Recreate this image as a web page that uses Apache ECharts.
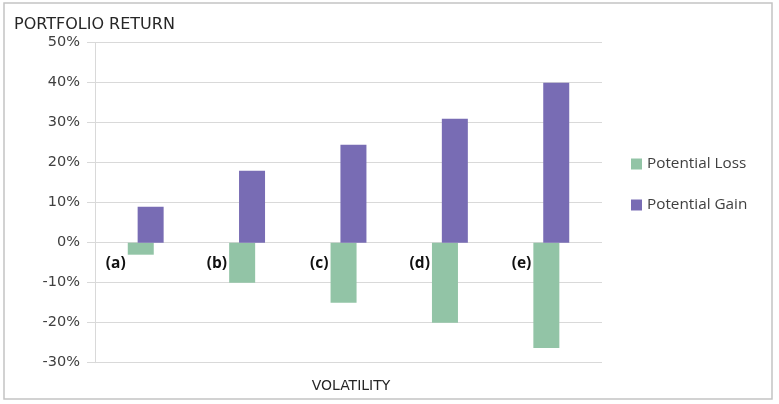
<!DOCTYPE html>
<html><head><meta charset="utf-8">
<script src="https://cdn.jsdelivr.net/npm/echarts@6/dist/echarts.min.js"></script>
<style>html,body{margin:0;padding:0;background:#fff}#c{width:779px;height:404px}</style>
</head><body><div id="c"></div>
<script>
var categories = ['(a)', '(b)', '(c)', '(d)', '(e)'];
var potentialLoss = [-3, -10, -15, -20, -26.3];
var potentialGain = [9, 18, 24.5, 31, 40];
var yTicks = { min: -30, max: 50, interval: 10 };

var chart = echarts.init(document.getElementById('c'), null, { renderer: 'canvas' });
var font = 'DejaVu Sans';
var font2 = 'Open Sans';
chart.setOption({
  animation: false,
  backgroundColor: '#fff',
  graphic: [{
    type: 'rect', shape: { x: 4, y: 3, width: 768, height: 396 },
    style: { fill: 'none', stroke: '#c4c4c4', lineWidth: 1.5 }, silent: true
  }],
  title: [
    { text: 'PORTFOLIO RETURN', left: 9, top: 12,
      textStyle: { fontFamily: font, fontSize: 16, fontWeight: 'normal', color: '#262626' } },
    { text: 'VOLATILITY', left: 346, top: 374, textAlign: 'center',
      textStyle: { fontFamily: font, fontSize: 14, fontWeight: 'normal', color: '#262626' } }
  ],
  legend: {
    orient: 'vertical', left: 626, top: 151, itemWidth: 11, itemHeight: 11, itemGap: 25,
    icon: 'rect',
    textStyle: { fontFamily: font2, fontSize: 15.3, color: '#404040', lineHeight: 16 },
    data: ['Potential Loss', 'Potential Gain']
  },
  grid: { left: 95, right: 177, top: 42.7, bottom: 41.3, containLabel: false },
  xAxis: {
    type: 'category', data: categories, position: 'bottom', offset: -120,
    axisLine: { show: false, onZero: false },
    axisTick: { show: false },
    axisLabel: { margin: 13, align: 'right', padding: [0, 20, 0, 0],
      fontFamily: font2, fontSize: 15.5, fontWeight: 'bold', color: '#111' }
  },
  yAxis: {
    type: 'value', min: yTicks.min, max: yTicks.max, interval: yTicks.interval,
    axisLine: { show: true, lineStyle: { color: '#d9d9d9', width: 1 } },
    axisTick: { show: true, length: 8, lineStyle: { color: '#d9d9d9' } },
    splitLine: { lineStyle: { color: '#d9d9d9', width: 1 } },
    axisLabel: { margin: 15, formatter: '{value}%', fontFamily: font, fontSize: 14.5, color: '#404040' }
  },
  series: [
    { name: 'Potential Loss', type: 'bar', data: potentialLoss, barWidth: 26, barGap: '-62%',
      itemStyle: { color: '#92C4A6' } },
    { name: 'Potential Gain', type: 'bar', data: potentialGain, barWidth: 26,
      itemStyle: { color: '#786CB4' } }
  ]
});
</script></body></html>
